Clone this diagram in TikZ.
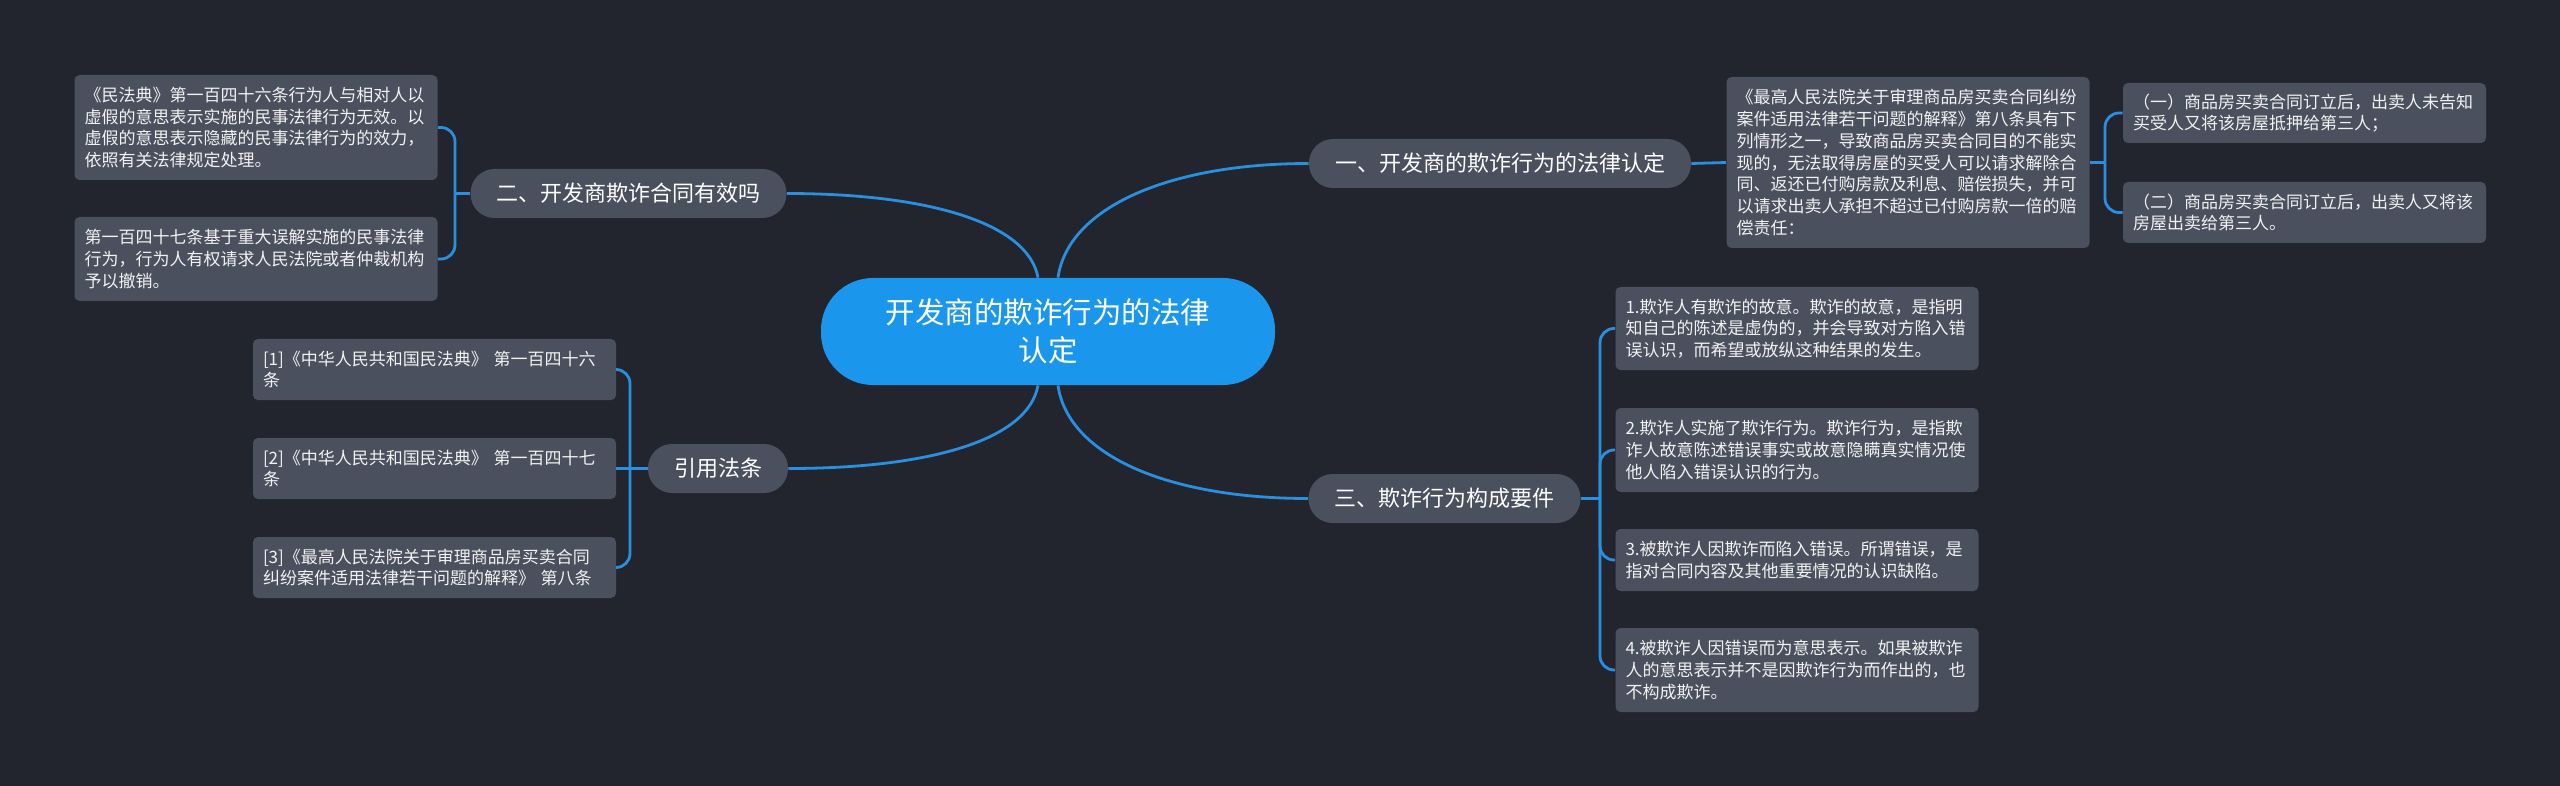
\documentclass[tikz,border=0pt]{standalone}
\usepackage{fontspec}
\setmainfont{Noto Sans CJK SC}
\definecolor{bgc}{HTML}{22252E}
\definecolor{nodec}{HTML}{4A505E}
\definecolor{rootc}{HTML}{1A97EC}
\definecolor{linec}{HTML}{2B8FE0}
\definecolor{textc}{HTML}{F2F2F2}
\begin{document}
\begin{tikzpicture}[x=0.5pt,y=-0.5pt,
  conn/.style={draw=linec, line width=1.4pt},
  branch/.style={fill=nodec, rounded corners=12pt, inner xsep=13pt, inner ysep=0pt, minimum height=24.5pt, text=white, font=\fontsize{11}{13}\selectfont},
  leaf/.style={fill=nodec, rounded corners=2.5pt, inner xsep=5pt, inner ysep=2pt, text width=171.5pt, align=left, text=textc, font=\fontsize{8.5}{10.85}\selectfont},
  root/.style={fill=rootc, rounded corners=26pt, minimum width=227pt, minimum height=53.5pt, align=center, text=white, font=\fontsize{14.75}{19}\selectfont}]
\fill[bgc] (0,0) rectangle (2560,786);
\useasboundingbox (0,0) rectangle (2560,786);

% root and branches
\node[root] (c) at (1048,331.5) {开发商的欺诈行为的法律\\认定};
\node[branch] (b1) at (1500,163.5) {一、开发商的欺诈行为的法律认定};
\node[branch] (b2) at (628.5,193.5) {二、开发商欺诈合同有效吗};
\node[branch] (b3) at (1444.5,498.5) {三、欺诈行为构成要件};
\node[branch] (b4) at (718,468.5) {引用法条};

% leaves of branch 2
\node[leaf, minimum height=52.5pt] (l1) at (256,127.5) {《民法典》第一百四十六条行为人与相对人以\\虚假的意思表示实施的民事法律行为无效。以\\虚假的意思表示隐藏的民事法律行为的效力，\\依照有关法律规定处理。};
\node[leaf, minimum height=42pt] (l2) at (256,259) {第一百四十七条基于重大误解实施的民事法律\\行为，行为人有权请求人民法院或者仲裁机构\\予以撤销。};

% leaves of branch 4
\node[leaf, minimum height=30.5pt] (r1) at (434.5,369.5) {[1]《中华人民共和国民法典》 第一百四十六\\条};
\node[leaf, minimum height=30.5pt] (r2) at (434.5,468.5) {[2]《中华人民共和国民法典》 第一百四十七\\条};
\node[leaf, minimum height=30.5pt] (r3) at (434.5,567.5) {[3]《最高人民法院关于审理商品房买卖合同\\纠纷案件适用法律若干问题的解释》 第八条};

% leaves of branch 1
\node[leaf, minimum height=85.5pt] (t) at (1908,162.5) {《最高人民法院关于审理商品房买卖合同纠纷\\案件适用法律若干问题的解释》第八条具有下\\列情形之一，导致商品房买卖合同目的不能实\\现的，无法取得房屋的买受人可以请求解除合\\同、返还已付购房款及利息、赔偿损失，并可\\以请求出卖人承担不超过已付购房款一倍的赔\\偿责任：};
\node[leaf, minimum height=30pt] (t1) at (2304.5,113) {（一）商品房买卖合同订立后，出卖人未告知\\买受人又将该房屋抵押给第三人；};
\node[leaf, minimum height=30.5pt] (t2) at (2304.5,212.5) {（二）商品房买卖合同订立后，出卖人又将该\\房屋出卖给第三人。};

% leaves of branch 3
\node[leaf, minimum height=41.5pt] (k1) at (1797,328.5) {1.欺诈人有欺诈的故意。欺诈的故意，是指明\\知自己的陈述是虚伪的，并会导致对方陷入错\\误认识，而希望或放纵这种结果的发生。};
\node[leaf, minimum height=42pt] (k2) at (1797,450) {2.欺诈人实施了欺诈行为。欺诈行为，是指欺\\诈人故意陈述错误事实或故意隐瞒真实情况使\\他人陷入错误认识的行为。};
\node[leaf, minimum height=31pt] (k3) at (1797,560) {3.被欺诈人因欺诈而陷入错误。所谓错误，是\\指对合同内容及其他重要情况的认识缺陷。};
\node[leaf, minimum height=42pt] (k4) at (1797,670) {4.被欺诈人因错误而为意思表示。如果被欺诈\\人的意思表示并不是因欺诈行为而作出的，也\\不构成欺诈。};

% main curves
\draw[conn] ([xshift=5pt]c.north) .. controls +(10,-70) and +(-140,0) .. (b1.west);
\draw[conn] ([xshift=-5pt]c.north) .. controls +(-10,-55) and +(140,0) .. (b2.east);
\draw[conn] ([xshift=5pt]c.south) .. controls +(10,70) and +(-140,0) .. (b3.west);
\draw[conn] ([xshift=-5pt]c.south) .. controls +(-10,55) and +(140,0) .. (b4.east);

% branch 1
\draw[conn] (b1.east) -- (t.west);
\coordinate (j1) at (2105,162.5);
\draw[conn] (t.east) -- (j1);
\draw[conn, rounded corners=7pt] (j1) |- (t1.west);
\draw[conn, rounded corners=7pt] (j1) |- (t2.west);

% branch 2
\coordinate (j2) at (455,193.5);
\draw[conn] (b2.west) -- (j2);
\draw[conn, rounded corners=7pt] (j2) |- (l1.east);
\draw[conn, rounded corners=7pt] (j2) |- (l2.east);

% branch 3
\coordinate (j3) at (1600,498.5);
\draw[conn] (b3.east) -- (j3);
\draw[conn, rounded corners=7pt] (j3) |- (k1.west);
\draw[conn, rounded corners=7pt] (j3) |- (k2.west);
\draw[conn, rounded corners=7pt] (j3) |- (k3.west);
\draw[conn, rounded corners=7pt] (j3) |- (k4.west);

% branch 4
\coordinate (j4) at (630,468.5);
\draw[conn] (b4.west) -- (j4);
\draw[conn, rounded corners=7pt] (j4) |- (r1.east);
\draw[conn] (j4) -- (r2.east);
\draw[conn, rounded corners=7pt] (j4) |- (r3.east);
\end{tikzpicture}
\end{document}
